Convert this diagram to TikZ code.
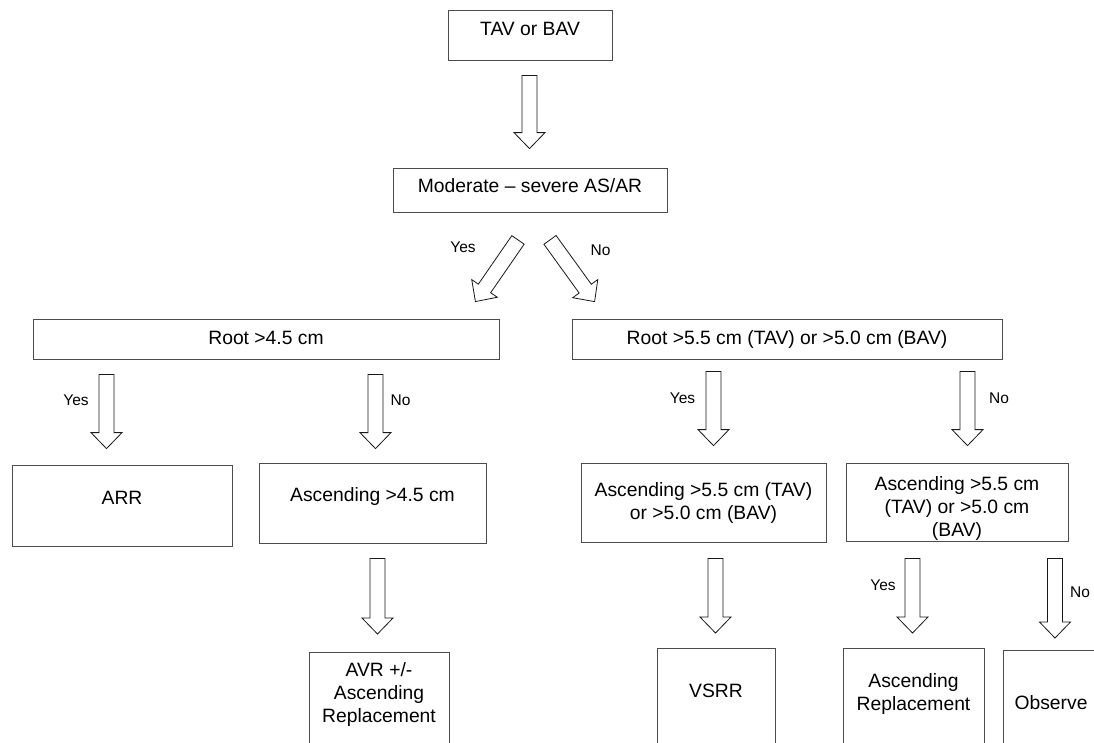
\documentclass[tikz,border=0pt]{standalone}
\usepackage{fontspec}
\setmainfont{Liberation Sans}
\usetikzlibrary{calc}
\newcommand{\flowfont}{\fontsize{19.3}{23}\selectfont}
\newcommand{\branchfont}{\fontsize{15.5}{18}\selectfont}
\tikzset{
  flowbox/.style={draw=black!70,line width=0.8pt,align=center,inner sep=0pt,
    font=\flowfont},
  lift/.style={text height=14pt,text depth=#1},
  lift/.default=4pt,
  hollowarrow/.style={draw=black!90,line width=0.8pt,fill=white,line join=miter},
  branchlabel/.style={font=\branchfont,inner sep=0pt}
}
% hollow block arrow from #1 to #2 (shaft 15pt, head 31pt wide, 16pt long)
\newcommand{\fatarrow}[2]{%
  \coordinate (fa-h) at ($(#2)!16pt!(#1)$);
  \draw[hollowarrow] ($(#1)!7.5pt!90:(#2)$) -- ($(fa-h)!7.5pt!90:(#2)$)
    -- ($(fa-h)!15.5pt!90:(#2)$) -- (#2) -- ($(fa-h)!15.5pt!-90:(#2)$)
    -- ($(fa-h)!7.5pt!-90:(#2)$) -- ($(#1)!7.5pt!-90:(#2)$) -- cycle;}

\begin{document}
\begin{tikzpicture}[x=1pt,y=-1pt]
\useasboundingbox (0,0) rectangle (1094,742);
\clip (0,0) rectangle (1094,742);

\node[flowbox,lift=13.4pt,minimum width=164pt,minimum height=50pt] (tav)
  at (530,35) {TAV or BAV};
\node[flowbox,lift=10pt,minimum width=274pt,minimum height=44pt] (sev)
  at (530,190) {Moderate – severe AS/AR};
\node[flowbox,lift,minimum width=466pt,minimum height=40pt] (rootl)
  at (266,339) {Root >4.5 cm};
\node[flowbox,lift,minimum width=430pt,minimum height=40pt] (rootr)
  at (787,339) {Root >5.5 cm (TAV) or >5.0 cm (BAV)};
\node[flowbox,lift=16pt,minimum width=220pt,minimum height=81pt] (arr)
  at (122,505.5) {ARR};
\node[flowbox,lift=18pt,minimum width=227pt,minimum height=80pt] (asclow)
  at (372.5,503) {Ascending >4.5 cm};
\node[flowbox,minimum width=245pt,minimum height=79pt] (aschigh)
  at (703.5,502.5) {Ascending >5.5 cm (TAV)\\or >5.0 cm (BAV)};
\node[flowbox,text height=72pt,minimum width=222pt,minimum height=78pt] (ascsplit)
  at (957,502) {Ascending >5.5 cm\\(TAV) or >5.0 cm\\(BAV)};

% the last row runs past the lower edge of the page
\node[flowbox,anchor=north,text depth=150pt,inner ysep=10pt,minimum width=140pt]
  (avr) at (379,652) {AVR +/-\\Ascending\\Replacement};
\node[flowbox,anchor=north,text depth=150pt,inner ysep=36pt,minimum width=118pt]
  (vsrr) at (716,648) {VSRR};
\node[flowbox,anchor=north,text depth=150pt,inner ysep=25pt,minimum width=141pt]
  (ascrep) at (913.5,648) {Ascending\\Replacement};
\node[flowbox,anchor=north,text depth=150pt,inner ysep=45pt,minimum width=96pt]
  (observe) at (1051,650) {Observe};

\coordinate (a1s) at ($(tav.south)+(-0.5,15)$);
\coordinate (a1e) at ($(sev.north)+(-0.5,-19)$);
\coordinate (a2s) at ($(sev.south)+(-12,27.5)$);
\coordinate (a2e) at ($(rootl.north east)+(-24,-17)$);
\coordinate (a3s) at ($(sev.south)+(20,27.5)$);
\coordinate (a3e) at ($(rootr.north west)+(23,-17)$);
\coordinate (a4s) at ($(rootl.south)+(-159.5,15)$);
\coordinate (a4e) at ($(arr.north)+(-15.5,-16)$);
\coordinate (a5s) at ($(rootl.south)+(109.5,15)$);
\coordinate (a5e) at ($(asclow.north)+(3,-14)$);
\coordinate (a6s) at ($(rootr.south)+(-73.5,12)$);
\coordinate (a6e) at ($(aschigh.north)+(10,-17)$);
\coordinate (a7s) at ($(rootr.south)+(180.5,12)$);
\coordinate (a7e) at ($(ascsplit.north)+(10.5,-17)$);
\coordinate (a8s) at ($(asclow.south)+(5,15)$);
\coordinate (a8e) at ($(avr.north)+(-1.5,-18)$);
\coordinate (a9s) at ($(aschigh.south)+(12,16)$);
\coordinate (a9e) at ($(vsrr.north)+(-0.5,-15)$);
\coordinate (a10s) at ($(ascsplit.south)+(-44.5,17)$);
\coordinate (a10e) at ($(ascrep.north)+(-1,-15)$);
\coordinate (a11s) at ($(ascsplit.south)+(98,17)$);
\coordinate (a11e) at ($(observe.north)+(4,-12)$);

\fatarrow{a1s}{a1e}
\fatarrow{a2s}{a2e}
\fatarrow{a3s}{a3e}
\fatarrow{a4s}{a4e}
\fatarrow{a5s}{a5e}
\fatarrow{a6s}{a6e}
\fatarrow{a7s}{a7e}
\fatarrow{a8s}{a8e}
\fatarrow{a9s}{a9e}
\fatarrow{a10s}{a10e}
\fatarrow{a11s}{a11e}

\node[branchlabel] (yes1) at (463,247.5) {Yes};
\node[branchlabel] (no1) at (600.5,250.5) {No};
\node[branchlabel] (yes2) at (76,400) {Yes};
\node[branchlabel] (no2) at (400.5,400) {No};
\node[branchlabel] (yes3) at (682.5,398) {Yes};
\node[branchlabel] (no3) at (999,398) {No};
\node[branchlabel] (yes4) at (883,585) {Yes};
\node[branchlabel] (no4) at (1080,592) {No};
\end{tikzpicture}
\end{document}
